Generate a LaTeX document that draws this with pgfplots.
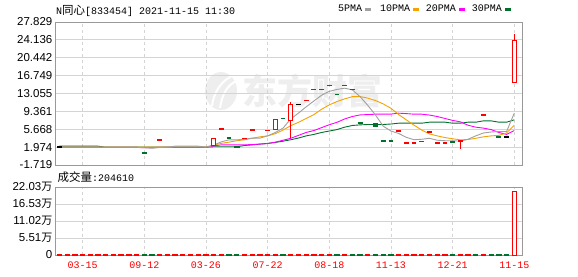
\documentclass[border=0pt]{standalone}
\usepackage{fontspec}
\setmainfont{Liberation Sans}
\newfontfamily\cjk{Noto Sans CJK SC}
\newfontfamily\mono{Liberation Mono}
\usepackage{pgfplots}
\pgfplotsset{compat=1.18}
\definecolor{gridgray}{HTML}{D4D4D4}
\definecolor{axisgray}{HTML}{999999}
\definecolor{maA}{HTML}{A0A0A0}
\definecolor{maB}{HTML}{F5A200}
\definecolor{maC}{HTML}{FF00FF}
\definecolor{maD}{HTML}{00702C}
\definecolor{dkgreen}{HTML}{00702C}
\definecolor{wm}{HTML}{EEEEEE}
\pgfplotsset{
  kbase/.style={
    scale only axis, width=467pt, xmin=0.42, xmax=61.0,
    axis line style={draw=axisgray, line width=0.8pt},
    major tick length=0pt,
    xtick={4,12,20,28,36,44,52,60},
    xmajorgrids, ymajorgrids,
    x grid style={gridgray, line width=0.8pt, dash pattern=on 3pt off 3pt},
    y grid style={gridgray, line width=0.8pt},
    yticklabel style={font=\fontsize{11.5}{12}\selectfont, inner sep=0pt, xshift=-2.5pt},
    /pgf/number format/assume math mode=true,
    unbounded coords=jump,
  }
}
\begin{document}
\begin{tikzpicture}
\path[use as bounding box] (0pt,0pt) rectangle (578pt,276pt);
% watermark
\fill[wm] (221pt,185pt) ellipse (16pt and 19pt);
\draw[white, line width=2pt] (212pt,170pt) .. controls (214pt,185pt) and (222pt,196pt) .. (234pt,201pt);
\draw[white, line width=2pt] (220pt,168pt) .. controls (222pt,182pt) and (228pt,192pt) .. (237pt,195pt);
\node[wm, font=\cjk\bfseries\fontsize{35}{36}\selectfont, anchor=center] at (312pt,185pt) {东方财富};
% title
\node[anchor=west, inner sep=0pt] at (56pt,265.5pt) {\mono\fontsize{10}{12}\selectfont N{\cjk\fontsize{11.5}{12}\selectfont 同心}[833454] 2021-11-15 11:30};
% legend
\node[anchor=west, inner sep=0pt] at (338pt,267.3pt) {\mono\fontsize{10}{12}\selectfont 5PMA};
\fill[maA] (365pt,265pt) rectangle (371pt,267.7pt);
\node[anchor=west, inner sep=0pt] at (380pt,267.3pt) {\mono\fontsize{10}{12}\selectfont 10PMA};
\fill[maB] (413pt,265pt) rectangle (419pt,267.7pt);
\node[anchor=west, inner sep=0pt] at (425.7pt,267.3pt) {\mono\fontsize{10}{12}\selectfont 20PMA};
\fill[maC] (459pt,265pt) rectangle (465pt,267.7pt);
\node[anchor=west, inner sep=0pt] at (471.7pt,267.3pt) {\mono\fontsize{10}{12}\selectfont 30PMA};
\fill[maD] (505pt,265pt) rectangle (511pt,267.7pt);
% volume caption
\node[anchor=west, inner sep=0pt] at (57.5pt,98.5pt) {{\cjk\fontsize{11.5}{12}\selectfont 成交量}\mono\fontsize{10}{12}\selectfont:204610};

\begin{axis}[kbase, at={(55pt,111pt)}, anchor=south west, height=143pt,
  ymin=-1.719, ymax=27.829,
  ytick={-1.719,1.974,5.668,9.361,13.055,16.749,20.442,24.136,27.829},
  yticklabels={-1.719,1.974,5.668,9.361,13.055,16.749,20.442,24.136,27.829},
  xticklabels={}]
% moving averages
\addplot[maD, line width=0.9pt] coordinates {
(1,2.17)(2,2.17)(3,2.17)(4,2.17)(5,2.17)(6,2.17)(7,1.97)(8,1.97)(9,1.97)(10,1.97)
(11,1.97)(12,1.97)(13,1.97)(14,1.97)(15,1.97)(16,1.97)(17,1.97)(18,1.97)(19,1.97)(20,1.97)
(21,2.05)(22,2.05)(23,2.05)(24,2.05)(25,2.3)(26,2.45)(27,2.6)(28,2.75)(29,2.95)(30,3.2)
(31,3.5)(32,3.85)(33,4.3)(34,4.6)(35,5.0)(36,5.3)(37,5.6)(38,6.1)(39,6.45)(40,6.57)
(41,6.65)(42,6.65)(43,6.65)(44,6.75)(45,6.92)(46,6.92)(47,6.92)(48,6.92)(49,7.13)(50,7.13)
(51,7.13)(52,6.92)(53,6.92)(54,7.13)(55,7.13)(56,7.4)(57,7.4)(58,7.13)(59,7.13)(60,7.61)};
\addplot[maC, line width=0.9pt] coordinates {
(1,1.92)(2,1.92)(3,1.92)(4,1.92)(5,1.92)(6,1.92)(7,1.92)(8,1.92)(9,1.92)(10,1.92)
(11,1.92)(12,1.85)(13,1.85)(14,1.95)(15,1.95)(16,1.95)(17,1.95)(18,1.95)(19,1.95)(20,1.95)
(21,2.2)(22,2.45)(23,2.45)(24,2.45)(25,2.45)(26,2.5)(27,2.6)(28,2.7)(29,3.0)(30,3.4)
(31,3.8)(32,4.4)(33,5.0)(34,5.4)(35,6.0)(36,6.6)(37,7.1)(38,7.8)(39,8.3)(40,8.64)
(41,8.7)(42,8.78)(43,8.78)(44,8.8)(45,8.99)(46,8.9)(47,8.78)(48,8.78)(49,8.6)(50,8.3)
(51,7.9)(52,7.5)(53,7.2)(54,6.5)(55,6.1)(56,5.9)(57,5.6)(58,5.0)(59,4.6)(60,5.4)};
\addplot[maB, line width=0.9pt] coordinates {
(1,1.97)(2,1.97)(3,1.97)(4,1.97)(5,1.97)(6,1.97)(7,1.97)(8,1.97)(9,1.97)(10,1.97)
(11,1.97)(12,1.97)(13,1.97)(14,1.97)(15,1.97)(16,2.0)(17,2.0)(18,2.0)(19,2.0)(20,2.0)
(21,2.4)(22,2.75)(23,3.0)(24,3.3)(25,3.5)(26,3.8)(27,4.1)(28,4.3)(29,4.75)(30,5.5)
(31,6.4)(32,7.1)(33,7.9)(34,8.7)(35,9.8)(36,10.7)(37,11.4)(38,11.95)(39,12.4)(40,12.42)
(41,12.1)(42,11.6)(43,10.9)(44,10.0)(45,8.7)(46,7.6)(47,6.5)(48,5.5)(49,4.7)(50,4.3)
(51,3.95)(52,3.7)(53,3.48)(54,3.55)(55,3.8)(56,4.1)(57,4.3)(58,4.4)(59,4.9)(60,6.5)};
\addplot[maA, line width=0.9pt] coordinates {
(1,1.97)(2,1.97)(3,1.97)(4,1.97)(5,1.97)(6,1.97)(7,1.97)(8,1.97)(9,1.97)(10,1.97)
(11,1.97)(12,1.85)(13,1.75)(14,1.9)(15,1.97)(16,2.17)(17,2.17)(18,2.17)(19,2.17)(20,1.97)
(21,2.4)(22,3.07)(23,3.48)(24,3.48)(25,3.6)(26,3.83)(27,3.83)(28,4.3)(29,5.0)(30,5.9)
(31,7.8)(32,9.0)(33,10.3)(34,11.5)(35,12.7)(36,13.5)(37,13.9)(38,14.15)(39,13.8)(40,12.4)
(41,10.6)(42,8.6)(43,6.3)(44,5.3)(45,4.8)(46,4.0)(47,3.5)(48,3.6)(49,3.8)(50,3.4)
(51,3.3)(52,3.3)(53,3.2)(54,3.6)(55,4.3)(56,4.9)(57,5.1)(58,5.2)(59,5.2)(60,9.0)};
% one-price candles (dashes)
\addplot[red, line width=1.3pt] coordinates {
(13.69,3.46)(14.31,3.46)(14,nan)(21.69,5.69)(22.31,5.69)(22,nan)(24.69,3.69)(25.31,3.69)(25,nan)
(25.69,5.54)(26.31,5.54)(26,nan)(27.69,5.48)(28.31,5.48)(28,nan)(32.69,11.67)(33.31,11.67)(33,nan)
(33.69,13.94)(34.31,13.94)(34,nan)(34.69,13.94)(35.31,13.94)(35,nan)(35.69,14.77)(36.31,14.77)(36,nan)
(37.69,14.77)(38.31,14.77)(38,nan)(44.69,5.28)(45.31,5.28)(45,nan)(45.69,2.80)(46.31,2.80)(46,nan)
(46.69,2.80)(47.31,2.80)(47,nan)(47.69,3.07)(48.31,3.07)(48,nan)(48.69,5.07)(49.31,5.07)(49,nan)
(49.69,2.80)(50.31,2.80)(50,nan)(50.69,2.80)(51.31,2.80)(51,nan)(52.69,3.21)(53.31,3.21)(53,nan)
(55.69,8.64)(56.31,8.64)};
\addplot[dkgreen, line width=1.3pt] coordinates {
(11.69,0.77)(12.31,0.77)(12,nan)(22.69,3.89)(23.31,3.89)(23,nan)(29.69,7.9)(30.31,7.9)(30,nan)
(36.69,12.9)(37.31,12.9)(37,nan)(38.69,13.94)(39.31,13.94)(39,nan)(39.69,6.93)(40.31,6.93)(40,nan)
(42.69,3.27)(43.31,3.27)(43,nan)(43.69,3.27)(44.31,3.27)(44,nan)(51.69,3.01)(52.31,3.01)(52,nan)
(57.69,4.04)(58.31,4.04)};
\addplot[black, line width=1.3pt] coordinates {
(0.69,1.97)(1.31,1.97)(1,nan)(31.69,10.85)(32.31,10.85)(32,nan)(58.69,4.04)(59.31,4.04)};
% wicks
\addplot[red, line width=1pt] coordinates {(53,3.21)(53,1.69)};
\addplot[red, line width=1pt] coordinates {(31,3.95)(31,7.41)(31,nan)(31,10.85)(31,11.2)};
\addplot[red, line width=1pt] coordinates {(60,24.05)(60,25.43)};
% bodies
\addplot[red, fill=white, line width=1pt] coordinates {(20.72,2.24)(21.28,2.24)(21.28,3.69)(20.72,3.69)} -- cycle;
\addplot[red, fill=white, line width=1pt] coordinates {(28.72,5.54)(29.28,5.54)(29.28,7.61)(28.72,7.61)} -- cycle;
\addplot[red, fill=white, line width=1pt] coordinates {(30.72,7.41)(31.28,7.41)(31.28,10.85)(30.72,10.85)} -- cycle;
\addplot[red, fill=white, line width=1pt] coordinates {(59.72,15.38)(60.28,15.38)(60.28,24.05)(59.72,24.05)} -- cycle;
\addplot[draw=dkgreen, fill=dkgreen, line width=0.6pt] coordinates {(23.72,2.17)(24.28,2.17)(24.28,1.87)(23.72,1.87)} -- cycle;
\addplot[draw=dkgreen, fill=dkgreen, line width=0.6pt] coordinates {(41.72,6.86)(42.28,6.86)(42.28,6.3)(41.72,6.3)} -- cycle;
\end{axis}

\begin{axis}[kbase, at={(55pt,21pt)}, anchor=south west, height=68pt,
  ymin=0, ymax=220300,
  ytick={0,55075,110150,165225,220300},
  yticklabels={0,5.51{\cjk\fontsize{11}{12}\selectfont 万},11.02{\cjk\fontsize{11}{12}\selectfont 万},16.53{\cjk\fontsize{11}{12}\selectfont 万},22.03{\cjk\fontsize{11}{12}\selectfont 万}},
  scaled y ticks=false,
  xticklabels={03-15,09-12,03-26,07-22,08-18,11-13,12-21,11-15},
  xticklabel style={font=\mono\fontsize{10}{12}\selectfont, text=red, anchor=north, inner sep=0pt, yshift=-6.5pt}]
\addplot[ybar, bar width=4.3pt, bar shift=0pt, draw=red, fill=none, line width=1pt] coordinates {
(1,1000)(2,1000)(3,1000)(4,1000)(5,1000)(6,1000)(7,1000)(8,1000)(9,1000)(10,1000)(11,1000)
(14,1000)(15,1000)(16,1000)(17,1000)(18,1000)(19,1000)(20,1000)(21,1000)(22,1000)(25,1000)
(26,1000)(27,1000)(28,1000)(29,1000)(31,1000)(32,1000)(33,1000)(34,1000)(35,1000)(36,1000)
(38,1000)(41,1000)(45,1000)(46,1000)(47,1000)(48,1000)(49,1000)(50,1000)(51,1000)(53,1000)
(54,1000)(56,1000)};
\addplot[ybar, bar width=4.3pt, bar shift=0pt, draw=dkgreen, fill=none, line width=1pt] coordinates {
(12,1000)(13,1000)(23,1000)(24,1000)(30,1000)(37,1000)(39,1000)(40,1000)(42,1000)(43,1000)
(44,1000)(52,1000)(55,1000)(57,1000)(58,1000)(59,1000)};
\addplot[ybar, bar width=4.3pt, bar shift=0pt, draw=red, fill=white, line width=1pt] coordinates {(60,204610)};
\end{axis}
\end{tikzpicture}
\end{document}
